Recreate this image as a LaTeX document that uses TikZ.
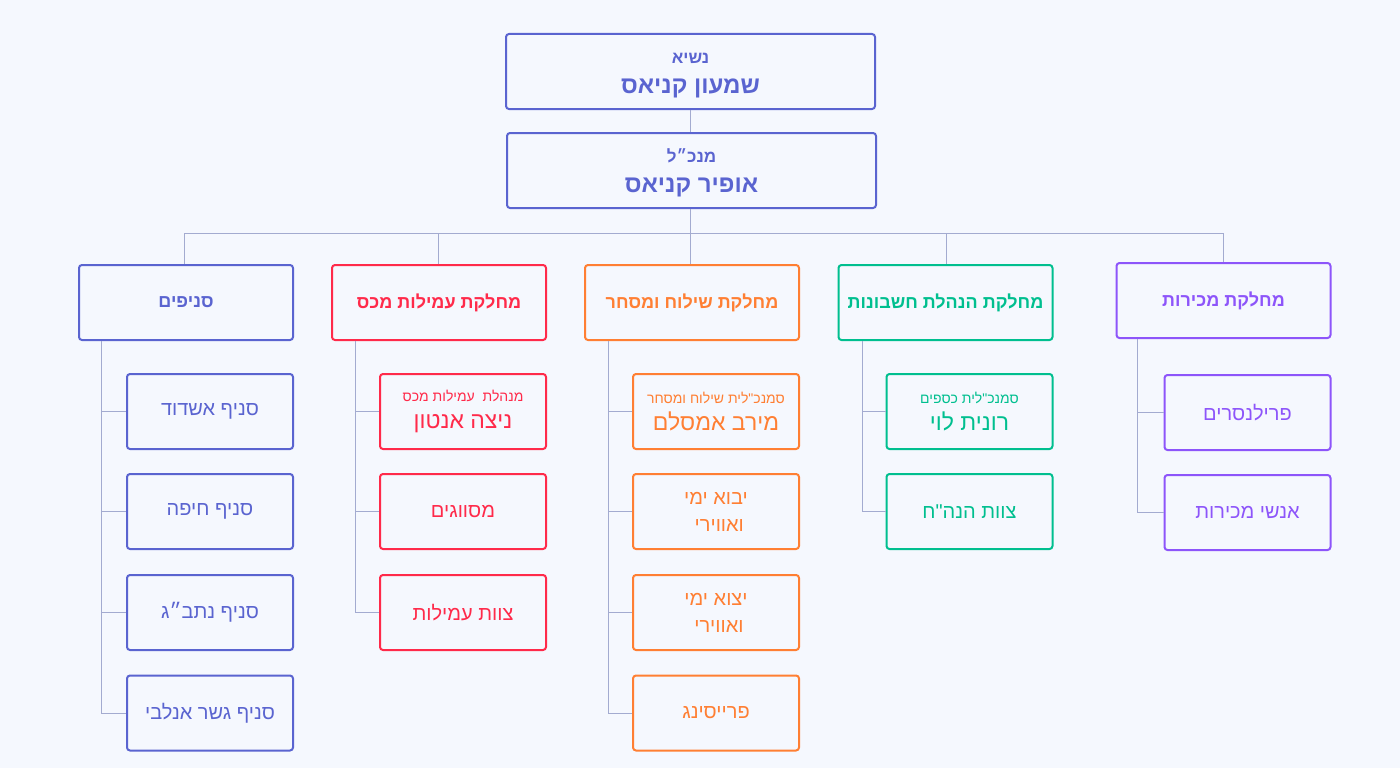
\documentclass[tikz,border=0pt]{standalone}
\usepackage{fontspec}
\TeXXeTstate=1
\newfontfamily\heb[Script=Hebrew]{Liberation Sans}
\definecolor{bgc}{HTML}{F5F8FE}
\definecolor{cind}{HTML}{5A64D0}
\definecolor{cred}{HTML}{FF2A4A}
\definecolor{corg}{HTML}{FF7F33}
\definecolor{cgrn}{HTML}{00BF8F}
\definecolor{cpur}{HTML}{8D55FA}
\definecolor{cline}{HTML}{A3ABD0}
\newcommand{\fs}[1]{\fontsize{#1}{#1}\selectfont}
\newcommand{\rl}[1]{\beginR #1\endR}
\tikzset{
  box/.style={draw=#1, text=#1, line width=2pt, rounded corners=3pt, fill=bgc,
    inner sep=0pt, align=center, font=\heb},
  topbox/.style={box=cind, minimum width=369, minimum height=75},
  deptbox/.style={box=#1, minimum width=214, minimum height=75, font=\heb\bfseries\fs{18}},
  kidbox/.style={box=#1, minimum width=166, minimum height=75, font=\heb\fs{20}},
  conn/.style={draw=cline, line width=1pt}
}
\begin{document}
\begin{tikzpicture}[x=1pt,y=-1pt]
\fill[bgc] (0,0) rectangle (1400,768);
\useasboundingbox (0,0) rectangle (1400,768);

% top
\node[topbox] (pres) at (690.5,71.5) {{\bfseries\fs{17}\rule{0pt}{18pt}\rl{נשיא}}\\[14pt]{\bfseries\fs{24}\rl{שמעון קניאס}}};
\node[topbox] (ceo) at (691.5,170.5) {{\bfseries\fs{17}\rule{0pt}{18pt}\rl{מנכ״ל}}\\[14pt]{\bfseries\fs{24}\rl{אופיר קניאס}}};

% departments
\node[deptbox=cind] (d1) at (186,302.5) {\rl{סניפים}};
\node[deptbox=cred] (d2) at (439,302.5) {\rl{מחלקת עמילות מכס}};
\node[deptbox=corg] (d3) at (692,302.5) {\rl{מחלקת שילוח ומסחר}};
\node[deptbox=cgrn] (d4) at (945.5,302.5) {\rl{מחלקת הנהלת חשבונות}};
\node[deptbox=cpur] (d5) at (1223.5,300.5) {\rl{מחלקת מכירות}};

% connectors top
\coordinate (bar) at (690,233);
\draw[conn] (pres.south -| bar) -- (ceo.north -| bar);
\draw[conn] (ceo.south -| bar) -- (bar);
\draw[conn] (d1.north -| 184,0) |- (bar);
\draw[conn] (d2.north -| 438,0) |- (bar);
\draw[conn] (d3.north -| bar) -- (bar);
\draw[conn] (d4.north -| 946,0) |- (bar);
\draw[conn] (d5.north -| 1223,0) |- (bar);

% blue children
\node[kidbox=cind] (b1) at (210,411.5) {\rl{סניף אשדוד}};
\node[kidbox=cind] (b2) at (210,511.5) {\rl{סניף חיפה}};
\node[kidbox=cind] (b3) at (210,612.5) {\rl{סניף נתב״ג}};
\node[kidbox=cind] (b4) at (210,713) {\rl{סניף גשר אנלבי}};
\foreach \k in {b1,b2,b3,b4} \draw[conn] (d1.south -| 101,0) |- (\k.west);

% red children
\node[kidbox=cred] (r1) at (463,411.5) {{\fs{14}\rl{מנהלת\ \ עמילות מכס}}\\[7pt]{\fs{23}\rl{ניצה אנטון}}};
\node[kidbox=cred] (r2) at (463,511.5) {\rl{מסווגים}};
\node[kidbox=cred] (r3) at (463,612.5) {\rl{צוות עמילות}};
\foreach \k in {r1,r2,r3} \draw[conn] (d2.south -| 355,0) |- (\k.west);

% orange children
\node[kidbox=corg] (o1) at (716,411.5) {{\fs{14}\rl{סמנכ"לית שילוח ומסחר}}\\[7pt]{\fs{23}\rl{מירב אמסלם}}};
\node[kidbox=corg, align=right] (o2) at (716,511.5) {\rl{יבוא ימי}\\[7pt]\rl{ואווירי}\hspace*{4pt}};
\node[kidbox=corg, align=right] (o3) at (716,612.5) {\rl{יצוא ימי}\\[7pt]\rl{ואווירי}\hspace*{4pt}};
\node[kidbox=corg] (o4) at (716,713) {\rl{פרייסינג}};
\foreach \k in {o1,o2,o3,o4} \draw[conn] (d3.south -| 608,0) |- (\k.west);

% green children
\node[kidbox=cgrn] (g1) at (969.5,411.5) {{\fs{14}\rl{סמנכ"לית כספים}}\\[7pt]{\fs{23}\rl{רונית לוי}}};
\node[kidbox=cgrn] (g2) at (969.5,511.5) {\rl{צוות הנה"ח}};
\foreach \k in {g1,g2} \draw[conn] (d4.south -| 862,0) |- (\k.west);

% purple children
\node[kidbox=cpur] (p1) at (1247.5,412.5) {\rl{פרילנסרים}};
\node[kidbox=cpur] (p2) at (1247.5,512.5) {\rl{אנשי מכירות}};
\foreach \k in {p1,p2} \draw[conn] (d5.south -| 1137,0) |- (\k.west);
\end{tikzpicture}
\end{document}
